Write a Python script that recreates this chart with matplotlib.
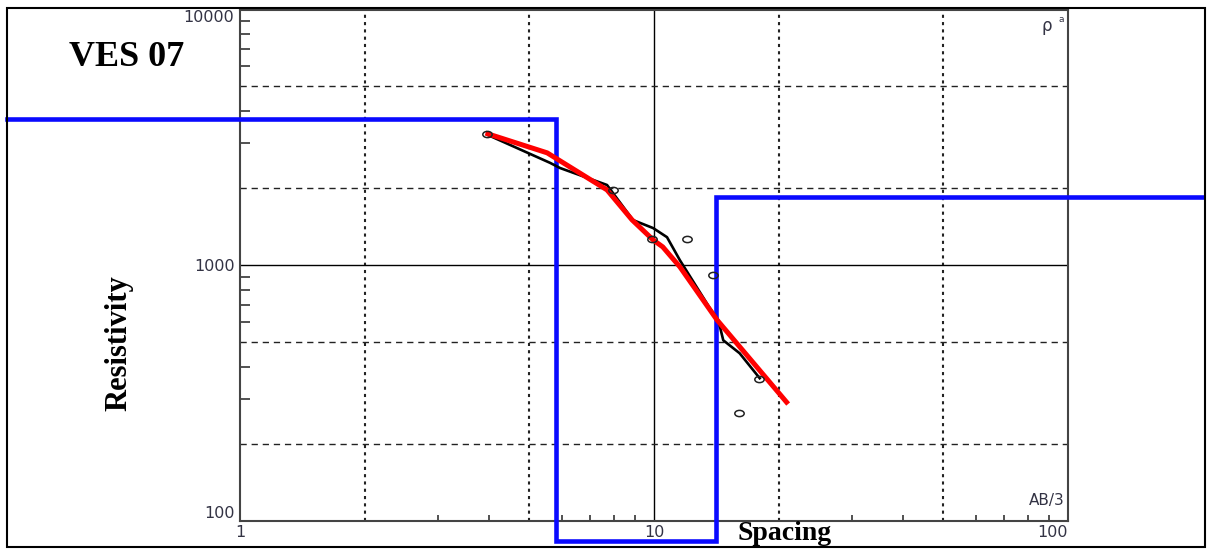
import matplotlib.pyplot as plt
import numpy as np
from matplotlib.markers import MarkerStyle
from matplotlib.transforms import Affine2D
from matplotlib.patches import Rectangle

# Field data (apparent resistivity vs spacing)
obs_spacing = [3.95, 7.96, 9.89, 12.0, 13.9, 17.9, 16.0]
obs_rho = [3262, 1969, 1270, 1270, 916, 358, 264]

# Model response curve (black)
calc_spacing = [3.97, 5.61, 5.93, 7.70, 8.90, 9.95, 10.75, 11.55, 13.6, 14.3, 14.7, 16.1, 18.0]
calc_rho = [3228, 2512, 2398, 2058, 1500, 1396, 1286, 1045, 684, 609, 508, 452, 361]

# Smoothed fit (red)
fit_spacing = [3.97, 5.52, 7.70, 8.85, 9.95, 10.5, 11.55, 14.2, 20.9]
fit_rho = [3262, 2749, 1969, 1503, 1255, 1178, 984, 610, 291]

# Layered model (blue): layer boundaries and resistivities
layer_depths = [5.8, 14.1]
layer_rho = [3735, 83, 1849]
model_x_start, model_x_end = 0.274, 211

# grid lines
grid_solid_x = [10]
grid_dotted_x = [2, 5, 20, 50]
grid_solid_y = [1000]
grid_dashed_y = [200, 500, 2000, 5000]

fig = plt.figure(figsize=(12.1, 5.49), dpi=100)
ax = fig.add_axes([240/1210, (549-520.7)/549, 828/1210, 511.2/549])
ax.set_xscale('log')
ax.set_yscale('log')
ax.set_xlim(1, 100)
ax.set_ylim(100, 10000)

for gx in grid_solid_x:
    ax.axvline(gx, color='black', lw=1.0, zorder=1)
for gx in grid_dotted_x:
    ax.axvline(gx, color='#222222', lw=1.5, ls=(0, (1.5, 2.0)), zorder=1)
for gy in grid_solid_y:
    ax.axhline(gy, color='black', lw=1.0, zorder=1)
for gy in grid_dashed_y:
    ax.axhline(gy, color='#222222', lw=1.0, ls=(0, (4.5, 3.5)), zorder=1)

# blue layered model as step line
bx = [model_x_start]
by = [layer_rho[0]]
for d, r0, r1 in zip(layer_depths, layer_rho[:-1], layer_rho[1:]):
    bx += [d, d]
    by += [r0, r1]
bx.append(model_x_end)
by.append(layer_rho[-1])
ax.plot(bx, by, color='#0a0aff', lw=3.3, clip_on=False, zorder=3,
        solid_joinstyle='miter')

ax.plot(calc_spacing, calc_rho, color='black', lw=1.9, zorder=4)
ax.plot(fit_spacing, fit_rho, color='#ff0000', lw=3.6, zorder=5)

ell = MarkerStyle('o', fillstyle='none', transform=Affine2D().scale(1.5, 1.0))
ax.plot(obs_spacing, obs_rho, ls='none', marker=ell, markersize=4.5,
        markeredgecolor='#222222', markeredgewidth=1.1, zorder=6)

# ticks
tick_col = '#333344'
ax.set_xticks([1, 10, 100], ['1', '10', '100'])
ax.set_yticks([100, 1000, 10000], ['100', '1000', '10000'])
ax.set_xticks([s * d for d in (1, 10) for s in (3, 4, 6, 7, 8, 9)], minor=True)
ax.set_yticks([s * d for d in (100, 1000) for s in (3, 4, 6, 7, 8, 9)], minor=True)
ax.xaxis.set_minor_formatter(plt.NullFormatter())
ax.yaxis.set_minor_formatter(plt.NullFormatter())
ax.tick_params(which='major', length=0, labelsize=11.5, labelcolor=tick_col)
ax.tick_params(axis='x', which='major', pad=3)
ax.tick_params(axis='y', which='major', pad=4)
ax.tick_params(axis='x', which='minor', direction='in', length=4, width=1.2, color='#333333')
ax.tick_params(axis='y', which='minor', direction='in', length=7, width=1.2, color='#333333')
ax.get_xticklabels()[-1].set_horizontalalignment('right')
ax.get_yticklabels()[0].set_verticalalignment('bottom')
ax.get_yticklabels()[-1].set_verticalalignment('top')

for sp in ax.spines.values():
    sp.set_linewidth(1.5)
    sp.set_color('#444444')

ax.text(0.981, 0.985, 'ρ', transform=ax.transAxes, ha='right', va='top',
        fontsize=12, color=tick_col)
ax.text(0.988, 0.99, 'a', transform=ax.transAxes, ha='left', va='top',
        fontsize=6.5, color=tick_col)
ax.text(0.996, 0.025, 'AB/3', transform=ax.transAxes, ha='right', va='bottom',
        fontsize=11, color=tick_col)

serif = 'Liberation Serif'
fig.text(127/1210, 1 - 57/549, 'VES 07', family=serif, weight='bold',
         fontsize=26, ha='center', va='center')
fig.text(119/1210, 1 - 343/549, 'Resistivity', family=serif, weight='bold',
         fontsize=22, rotation=90, ha='center', va='center')
fig.text(785/1210, 1 - 534/549, 'Spacing', family=serif, weight='bold',
         fontsize=20, ha='center', va='center')

# outer frame
fig.patches.append(Rectangle((7/1210, 2/549), 1198/1210, 539/549, fill=False,
                             edgecolor='black', lw=1.5, transform=fig.transFigure))

fig.savefig('out.png', dpi=100)
